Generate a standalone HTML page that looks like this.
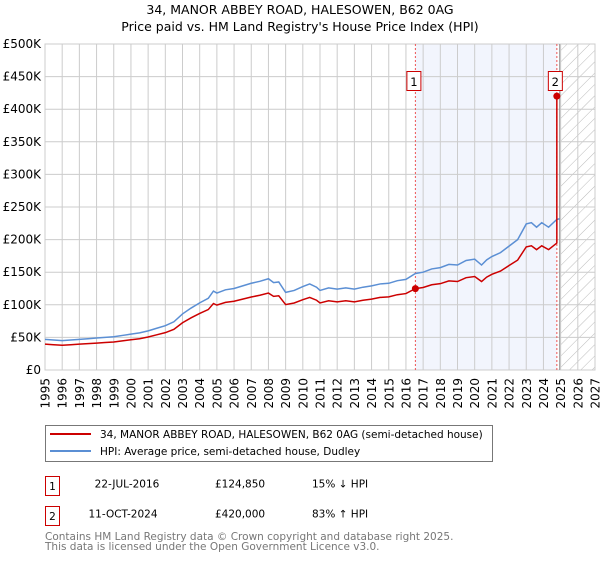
<!DOCTYPE html>
<html><head><meta charset="utf-8"><style>
body{margin:0;background:#fff;width:600px;height:560px;overflow:hidden;font-family:"DejaVu Sans","Liberation Sans",sans-serif}
svg text{font-family:"DejaVu Sans","Liberation Sans",sans-serif}
</style></head><body>
<svg id="chart" width="600" height="560" xmlns="http://www.w3.org/2000/svg">
<defs><pattern id="hatch" patternUnits="userSpaceOnUse" width="8" height="8" patternTransform="rotate(45)"><line x1="0" y1="0" x2="0" y2="8" stroke="#bbb" stroke-width="1"/></pattern></defs>
<text x="300" y="14" text-anchor="middle" font-size="12.5">34, MANOR ABBEY ROAD, HALESOWEN, B62 0AG</text>
<text x="300" y="31" text-anchor="middle" font-size="12.5">Price paid vs. HM Land Registry's House Price Index (HPI)</text>
<g id="plot"></g>
<rect x="45.5" y="425.5" width="447" height="36" fill="#fff" stroke="#777"/>
<line x1="50" y1="434" x2="91" y2="434" stroke="#cc0000" stroke-width="2"/>
<text x="100" y="438" font-size="10.5">34, MANOR ABBEY ROAD, HALESOWEN, B62 0AG (semi-detached house)</text>
<line x1="50" y1="451" x2="91" y2="451" stroke="#5b8fd4" stroke-width="2"/>
<text x="100" y="455" font-size="10.5">HPI: Average price, semi-detached house, Dudley</text>
<rect x="45.5" y="476.5" width="14" height="19" fill="#fff" stroke="#cc0000"/>
<text x="52.5" y="490" text-anchor="middle" font-size="10.5">1</text>
<text x="127" y="487.5" text-anchor="middle" font-size="10.5">22-JUL-2016</text>
<text x="215" y="487.5" font-size="10.5">£124,850</text>
<text x="312" y="487.5" font-size="10.5">15% ↓ HPI</text>
<rect x="45.5" y="506.5" width="14" height="19" fill="#fff" stroke="#cc0000"/>
<text x="52.5" y="520" text-anchor="middle" font-size="10.5">2</text>
<text x="123" y="517.5" text-anchor="middle" font-size="10.5">11-OCT-2024</text>
<text x="215" y="517.5" font-size="10.5">£420,000</text>
<text x="312" y="517.5" font-size="10.5">83% ↑ HPI</text>
<text x="45" y="540" font-size="10.5" fill="#777">Contains HM Land Registry data © Crown copyright and database right 2025.</text>
<text x="45" y="550" font-size="10.5" fill="#777">This data is licensed under the Open Government Licence v3.0.</text>
</svg>
<script>
const hpiYears=[1995,1995.5,1996,1996.5,1997,1997.5,1998,1998.5,1999,1999.5,2000,2000.5,2001,2001.5,2002,2002.5,2003,2003.5,2004,2004.5,2004.8,2005,2005.5,2006,2006.5,2007,2007.5,2008,2008.3,2008.6,2009,2009.5,2010,2010.4,2010.8,2011,2011.5,2012,2012.5,2013,2013.5,2014,2014.5,2015,2015.5,2016,2016.55,2017,2017.5,2018,2018.5,2019,2019.5,2020,2020.4,2020.7,2021,2021.5,2022,2022.5,2023,2023.3,2023.6,2023.9,2024.3,2024.78,2024.95];
const hpiValues=[47,46,45,46,47,48,49,50,51,53,55,57,60,64,68,74,86,95,103,110,121,118,123,125,129,133,136,140,134,135,119,122,128,132,127,122,126,124,126,124,127,129,132,133,137,139,148,150,155,157,162,161,168,170,161,169,174,180,190,200,224,226,219,226,219,231,232];
const priceYears=[1995,1995.5,1996,1996.5,1997,1997.5,1998,1998.5,1999,1999.5,2000,2000.5,2001,2001.5,2002,2002.5,2003,2003.5,2004,2004.5,2004.8,2005,2005.5,2006,2006.5,2007,2007.5,2008,2008.3,2008.6,2009,2009.5,2010,2010.4,2010.8,2011,2011.5,2012,2012.5,2013,2013.5,2014,2014.5,2015,2015.5,2016,2016.55,2017,2017.5,2018,2018.5,2019,2019.5,2020,2020.4,2020.7,2021,2021.5,2022,2022.5,2023,2023.3,2023.6,2023.9,2024.3,2024.78,2024.78];
const priceValues=[39.6,38.8,37.9,38.8,39.6,40.5,41.3,42.2,43,44.7,46.4,48,50.6,54,57.3,62.4,72.5,80,86.8,92.7,102,99.5,103.7,105.4,108.7,112,114.6,118,113,113.8,100.3,102.8,107.9,111.3,107,102.8,106.2,104.5,106.2,104.5,107,108.7,111.3,112.1,115.5,117.2,124.85,126.5,130.7,132.4,136.6,135.7,141.6,143.3,135.7,142.5,146.7,151.7,160.2,168.6,188.8,190.5,184.6,190.5,184.6,194.7,420];
const saleYears=[2016.55,2024.78];
const saleValues=[124.85,420];
const saleLabels=["1","2"];
const yTicks=[0,50,100,150,200,250,300,350,400,450,500];
const yTickLabels=["£0","£50K","£100K","£150K","£200K","£250K","£300K","£350K","£400K","£450K","£500K"];
const xTicks=[1995,1996,1997,1998,1999,2000,2001,2002,2003,2004,2005,2006,2007,2008,2009,2010,2011,2012,2013,2014,2015,2016,2017,2018,2019,2020,2021,2022,2023,2024,2025,2026,2027];
const NS="http://www.w3.org/2000/svg";
const L=45,R=595,T=44,B=370;
const x=v=>L+(v-1995)/(2027-1995)*(R-L);
const y=v=>B-v/500*(B-T);
const g=document.getElementById('plot');
function mk(t,a){const e=document.createElementNS(NS,t);for(const k in a)e.setAttribute(k,a[k]);g.appendChild(e);return e;}
let e;
e=mk('rect',{x:x(saleYears[0]),y:T,width:x(saleYears[1])-x(saleYears[0]),height:B-T,fill:'#f2f5fd'});


e=mk('rect',{x:x(2025),y:T,width:R-x(2025),height:B-T,fill:'url(#hatch)'});


yTicks.forEach((t,i)=>{
 e=mk('line',{x1:L,x2:R,y1:y(t),y2:y(t),stroke:'#ccc'});
 
 
 e=mk('text',{x:L-4,y:y(t)+4,'text-anchor':'end','font-size':'12'});e.textContent=yTickLabels[i];
 
 
});
xTicks.forEach(t=>{
 e=mk('line',{x1:x(t),x2:x(t),y1:T,y2:B,stroke:'#ccc'});
 
 
 e=mk('text',{x:0,y:0,'text-anchor':'end','font-size':'12',transform:`translate(${x(t)+4.5},378) rotate(-90)`});e.textContent=t;
 
 
});
e=mk('rect',{x:L,y:T,width:R-L,height:B-T,fill:'none',stroke:'#ccc'});


e=mk('line',{x1:x(2025)-1,x2:x(2025)-1,y1:T,y2:B,stroke:'#999'});


saleYears.forEach((s,i)=>{
 e=mk('line',{x1:x(s),x2:x(s),y1:T,y2:B,stroke:'#ee5555','stroke-dasharray':'2,2'});
 
 
});
e=mk('polyline',{points:hpiYears.map((v,i)=>x(v)+','+y(hpiValues[i])).join(' '),fill:'none',stroke:'#5b8fd4','stroke-width':1.5});


e=mk('polyline',{points:priceYears.map((v,i)=>x(v)+','+y(priceValues[i])).join(' '),fill:'none',stroke:'#cc0000','stroke-width':1.5});


saleYears.forEach((s,i)=>{
 e=mk('circle',{cx:x(s),cy:y(saleValues[i]),r:3.5,fill:'#cc0000'});
 
 
 e=mk('rect',{x:x(s)-8.5,y:71.5,width:14,height:19,fill:'#fff',stroke:'#cc0000'});
 
 
 e=mk('text',{x:x(s)-1.5,y:86,'text-anchor':'middle','font-size':'11.5'});e.textContent=saleLabels[i];
 
 
});
</script>
</body></html>
